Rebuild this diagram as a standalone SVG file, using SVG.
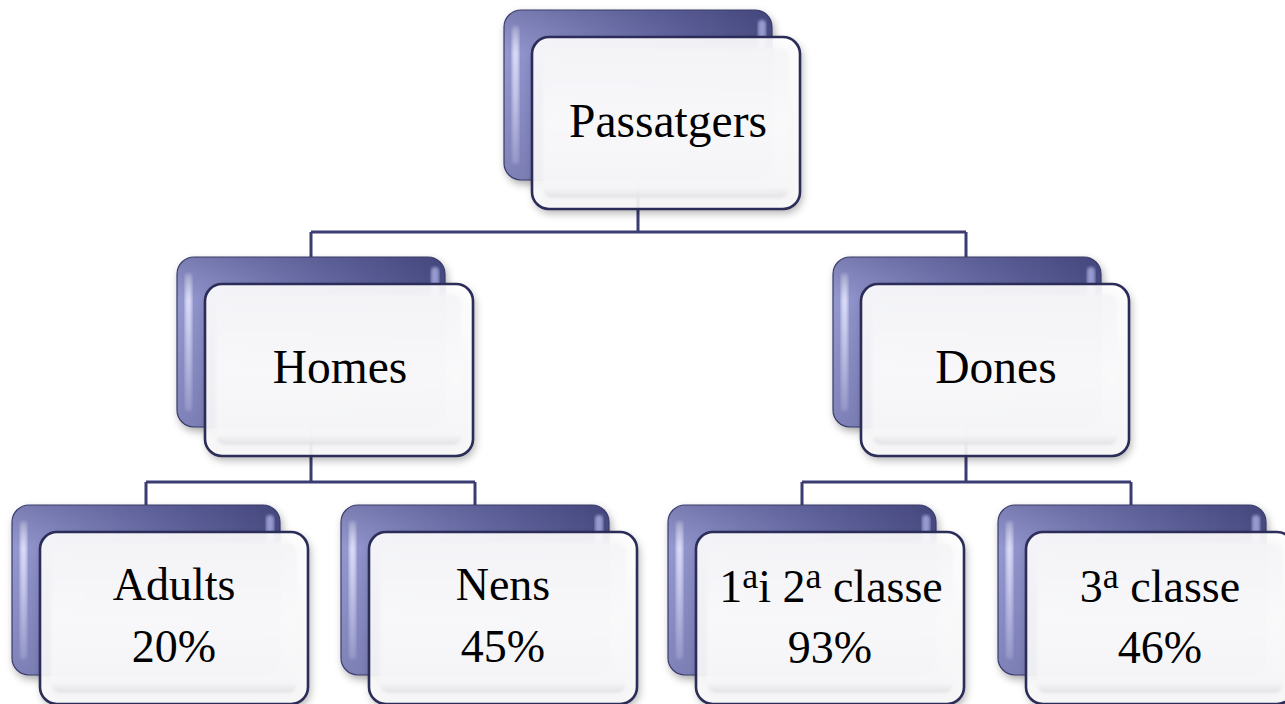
<svg xmlns="http://www.w3.org/2000/svg" xmlns:xlink="http://www.w3.org/1999/xlink" width="1285" height="704" viewBox="0 0 1285 704">
<style>
.conn{fill:none;stroke:#3b3d72;stroke-width:3;stroke-linejoin:miter}
.lbl{font-size:46px;fill:#000;text-anchor:middle}
.big{font-size:47.5px}
.sup{font-size:36px}
</style>
<defs>
<linearGradient id="backH" x1="0" y1="0" x2="1" y2="0">
<stop offset="0" stop-color="#9598cf"/>
<stop offset="0.55" stop-color="#6a6da8"/>
<stop offset="1" stop-color="#4b4e86"/>
</linearGradient>
<linearGradient id="backV" x1="0" y1="0" x2="0" y2="1">
<stop offset="0" stop-color="#2c2e5c" stop-opacity="0.25"/>
<stop offset="0.25" stop-color="#2c2e5c" stop-opacity="0"/>
<stop offset="1" stop-color="#2c2e5c" stop-opacity="0.2"/>
</linearGradient>
<linearGradient id="leftHi" x1="0" y1="0" x2="0" y2="1">
<stop offset="0" stop-color="#ffffff" stop-opacity="0.2"/>
<stop offset="0.2" stop-color="#e6e7ff" stop-opacity="0.85"/>
<stop offset="1" stop-color="#e6e7ff" stop-opacity="0.2"/>
</linearGradient>
<linearGradient id="frontFill" x1="0" y1="0" x2="0" y2="1">
<stop offset="0" stop-color="#ffffff"/>
<stop offset="1" stop-color="#f9f9fa"/>
</linearGradient>
<linearGradient id="innerFill" x1="0" y1="0" x2="0" y2="1">
<stop offset="0" stop-color="#f4f4f7"/>
<stop offset="0.5" stop-color="#f9f9fb"/>
<stop offset="0.93" stop-color="#f6f6f8"/>
<stop offset="1" stop-color="#dedee3"/>
</linearGradient>
<filter id="shadow" x="-10%" y="-10%" width="125%" height="130%">
<feDropShadow dx="2" dy="4" stdDeviation="4" flood-color="#000" flood-opacity="0.35"/>
</filter>
<filter id="soft" x="-5%" y="-5%" width="110%" height="110%">
<feGaussianBlur stdDeviation="1.6"/>
</filter>
<g id="card">
<g filter="url(#shadow)">
<rect x="0" y="0" width="268" height="170" rx="17" fill="url(#backH)"/>
</g>
<rect x="0" y="0" width="268" height="170" rx="17" fill="url(#backV)" stroke="#3a3c6c" stroke-width="1.2"/>
<rect x="8" y="16" width="7" height="138" rx="3.5" fill="url(#leftHi)" filter="url(#soft)"/>
<rect x="254" y="10" width="8" height="30" rx="4" fill="#b8bbee" opacity="0.7" filter="url(#soft)"/>
<g filter="url(#shadow)">
<rect x="28" y="27" width="268" height="172" rx="17" fill="url(#frontFill)" fill-opacity="0.9"/>
</g>
<rect x="39" y="38" width="246" height="150" rx="9" fill="url(#innerFill)" fill-opacity="0.85" filter="url(#soft)"/>
<rect x="28" y="27" width="268" height="172" rx="17" fill="none" stroke="#2b2d58" stroke-width="2.6"/>
</g>
</defs>

<g id="connectors">
<path class="conn" d="M638 180 V232 M311 232 H966 M311 232 V257 M966 232 V257"/>
<path class="conn" d="M311 427 V482 M146 482 H475 M146 482 V505 M475 482 V505"/>
<path class="conn" d="M966 427 V482 M802 482 H1131 M802 482 V505 M1131 482 V505"/>
</g>

<g id="node-passatgers" transform="translate(504,10)">
<use xlink:href="#card"/>
<text class="lbl big" font-family="Liberation Serif, serif" x="164" y="127">Passatgers</text>
</g>

<g id="node-homes" transform="translate(177,257)">
<use xlink:href="#card"/>
<text class="lbl big" font-family="Liberation Serif, serif" x="163" y="126">Homes</text>
</g>

<g id="node-dones" transform="translate(833,257)">
<use xlink:href="#card"/>
<text class="lbl big" font-family="Liberation Serif, serif" x="163" y="126">Dones</text>
</g>

<g id="node-adults" transform="translate(12,505)">
<use xlink:href="#card"/>
<text class="lbl" font-family="Liberation Serif, serif" x="162" y="95">Adults</text>
<text class="lbl" font-family="Liberation Serif, serif" x="162" y="157">20%</text>
</g>

<g id="node-nens" transform="translate(341,505)">
<use xlink:href="#card"/>
<text class="lbl" font-family="Liberation Serif, serif" x="162" y="95">Nens</text>
<text class="lbl" font-family="Liberation Serif, serif" x="162" y="157">45%</text>
</g>

<g id="node-classe12" transform="translate(668,505)">
<use xlink:href="#card"/>
<text class="lbl" font-family="Liberation Serif, serif" x="163" y="97">1<tspan class="sup" dy="-14">a</tspan><tspan dy="14">i 2</tspan><tspan class="sup" dy="-14">a</tspan><tspan dy="14"> classe</tspan></text>
<text class="lbl" font-family="Liberation Serif, serif" x="162" y="158">93%</text>
</g>

<g id="node-classe3" transform="translate(998,505)">
<use xlink:href="#card"/>
<text class="lbl" font-family="Liberation Serif, serif" x="162" y="97">3<tspan class="sup" dy="-14">a</tspan><tspan dy="14"> classe</tspan></text>
<text class="lbl" font-family="Liberation Serif, serif" x="162" y="158">46%</text>
</g>
</svg>
